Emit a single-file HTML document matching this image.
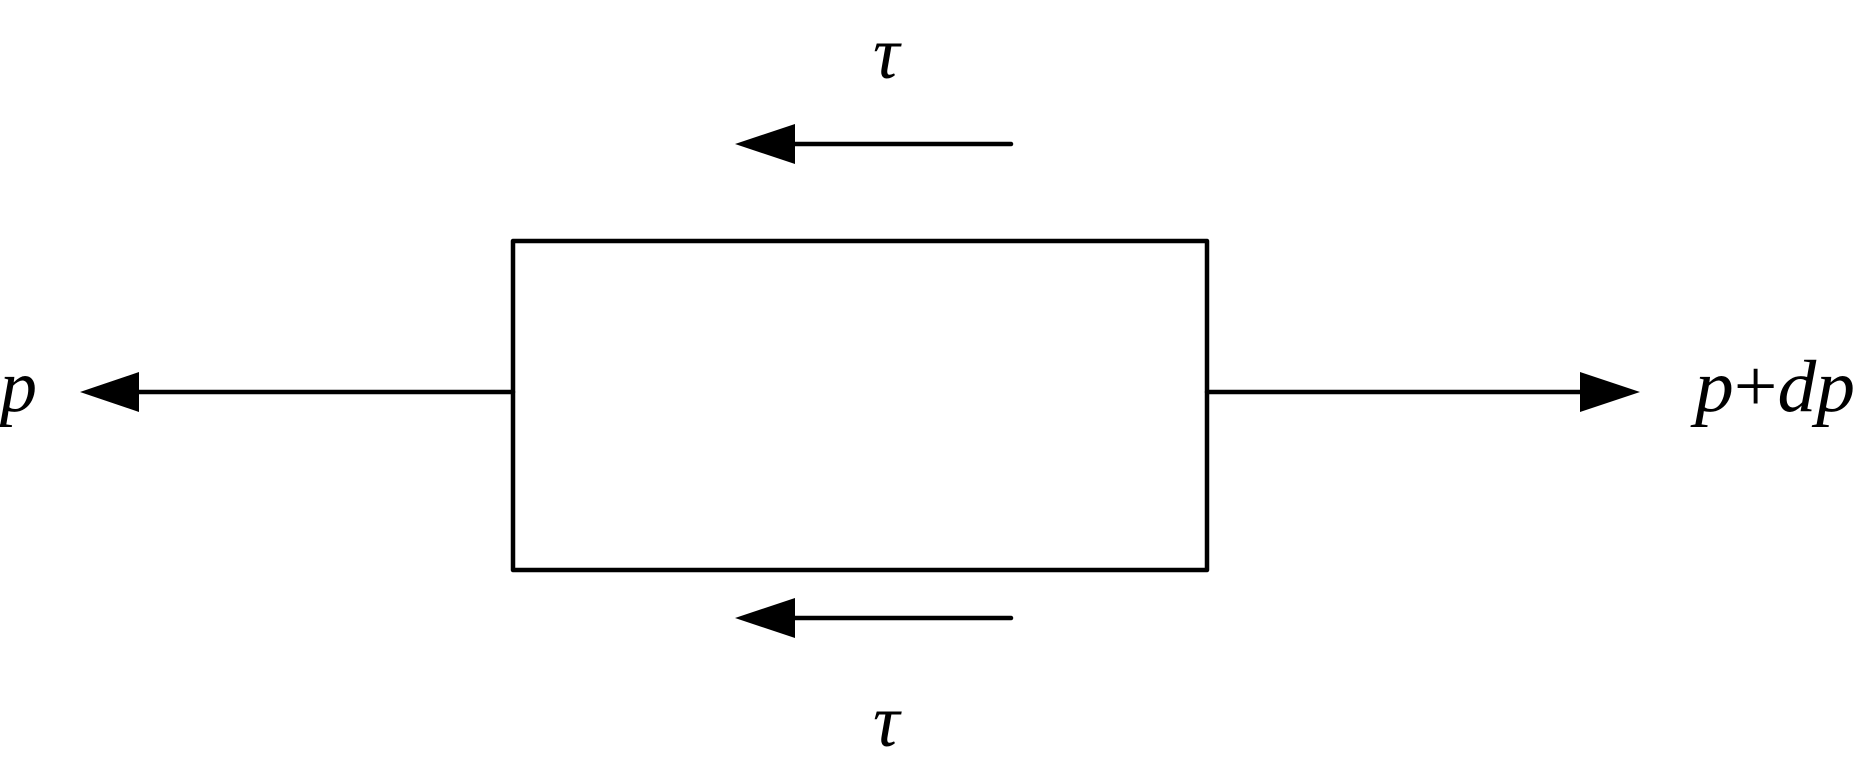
<!DOCTYPE html>
<html><head><meta charset="utf-8"><style>
html,body{margin:0;padding:0;background:#fff;}
svg{display:block;}
text{font-family:"Liberation Serif",serif;font-style:italic;fill:#000;}
</style></head><body>
<svg width="1863" height="773" viewBox="0 0 1863 773">
<rect x="513" y="241" width="694" height="329" fill="none" stroke="#000" stroke-width="4.5" stroke-linejoin="round"/>
<g stroke="#000" stroke-width="4.5" stroke-linecap="round">
<line x1="135" y1="392" x2="513" y2="392"/>
<line x1="1207" y1="392" x2="1585" y2="392"/>
<line x1="790" y1="144" x2="1011" y2="144"/>
<line x1="790" y1="618" x2="1011" y2="618"/>
</g>
<g fill="#000">
<polygon points="80,392 139,372 139,412"/>
<polygon points="1640,392 1580,372 1580,412"/>
<polygon points="735,144 795,124 795,164"/>
<polygon points="735,618 795,598 795,638"/>
</g>
<text x="873" y="78" font-size="74">τ</text>
<text x="873" y="746" font-size="74">τ</text>
<text x="0" y="411" font-size="74">p</text>
<text x="1695" y="411" font-size="74" textLength="160" lengthAdjust="spacingAndGlyphs">p<tspan font-style="normal">+</tspan>dp</text>
</svg>
</body></html>
